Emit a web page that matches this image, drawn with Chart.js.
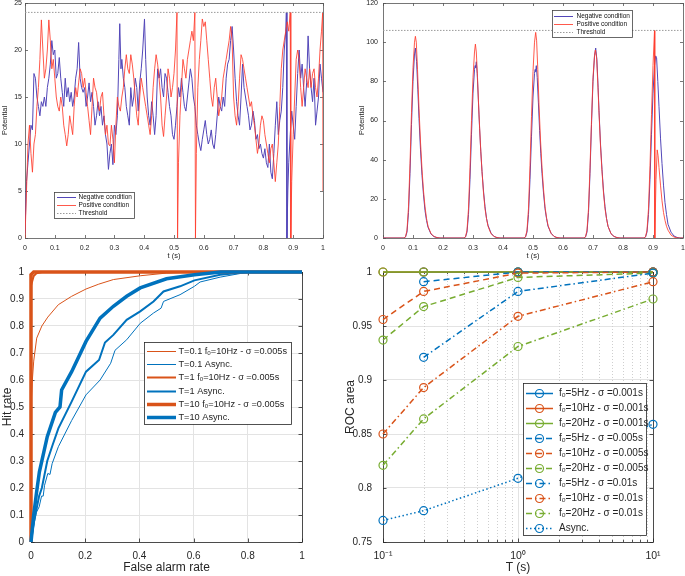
<!DOCTYPE html>
<html>
<head>
<meta charset="utf-8">
<script src="https://cdn.jsdelivr.net/npm/chart.js@4.4.1/dist/chart.umd.min.js"></script>
<style>
  html, body { margin: 0; padding: 0; background: #fff; }
  #wrap { position: relative; width: 685px; height: 576px; overflow: hidden; }
  canvas { position: absolute; }
</style>
</head>
<body>
<div id="wrap">
  <canvas id="c1" width="340" height="260" style="left:0;top:0"></canvas>
  <canvas id="c2" width="345" height="260" style="left:340px;top:0"></canvas>
  <canvas id="c3" width="340" height="316" style="left:0;top:260px"></canvas>
  <canvas id="c4" width="345" height="316" style="left:340px;top:260px"></canvas>
</div>
<script>
// ---- top left: potential with asynchronous input, [t, value]
const negTraceA = [[0,0.5],[0.005,6],[0.01,8],[0.015,10],[0.02,12],[0.025,11.5],[0.03,17.5],[0.035,17],[0.04,15],[0.045,14],[0.05,13],[0.055,14.5],[0.06,14],[0.065,15],[0.07,14],[0.075,16],[0.08,17],[0.085,18.5],[0.09,21],[0.095,19.5],[0.1,20],[0.105,17],[0.11,17.5],[0.115,19.2],[0.12,17],[0.125,15.5],[0.13,14],[0.135,17],[0.14,15],[0.145,16],[0.15,14.5],[0.155,15.5],[0.16,14],[0.165,15],[0.17,17],[0.175,18],[0.18,20.8],[0.185,17],[0.19,16],[0.195,15.5],[0.2,16],[0.205,14],[0.21,15],[0.215,16.5],[0.22,14.5],[0.225,15.5],[0.23,14],[0.235,12],[0.24,13],[0.245,14.5],[0.25,13],[0.255,14],[0.26,12],[0.265,13],[0.27,11],[0.275,10],[0.28,7.3],[0.285,9],[0.29,10],[0.295,7.8],[0.3,12],[0.305,11],[0.31,13],[0.315,19],[0.318,22.8],[0.322,18],[0.325,19],[0.33,17],[0.335,16],[0.34,14],[0.345,13],[0.35,12],[0.355,16],[0.36,14],[0.365,15],[0.37,17],[0.375,16],[0.38,13.5],[0.385,16.5],[0.39,18],[0.395,20],[0.401,23.3],[0.405,19],[0.41,15],[0.415,13],[0.42,12],[0.425,14.5],[0.43,13],[0.435,11],[0.44,13],[0.445,18],[0.45,17],[0.455,18],[0.46,16],[0.465,15],[0.47,17.5],[0.475,17],[0.48,15.5],[0.485,14],[0.49,13],[0.495,11],[0.5,10.5],[0.505,12],[0.51,14],[0.515,16],[0.52,15],[0.525,17],[0.53,15.5],[0.535,14],[0.54,13.5],[0.545,15],[0.55,16.5],[0.555,18],[0.56,17],[0.565,15],[0.57,14],[0.575,12],[0.58,11],[0.585,10],[0.59,9.3],[0.595,10.5],[0.6,11.5],[0.605,12.5],[0.61,11],[0.615,10],[0.62,10.5],[0.625,11.5],[0.63,10],[0.635,9.5],[0.64,11],[0.645,13],[0.65,15],[0.655,14],[0.66,13.5],[0.665,15],[0.67,14],[0.675,17],[0.68,18.5],[0.685,19],[0.69,21],[0.695,22.5],[0.7,20],[0.705,17],[0.71,14.5],[0.715,13],[0.72,12],[0.725,15],[0.73,18.5],[0.735,16],[0.74,15],[0.745,14],[0.75,13],[0.755,11.5],[0.76,12],[0.765,13.5],[0.77,12.5],[0.775,10.5],[0.78,11],[0.785,9.5],[0.79,10],[0.795,9],[0.8,8.5],[0.805,9.5],[0.81,8],[0.815,7.5],[0.82,10],[0.825,7],[0.83,6.3],[0.835,9],[0.84,12],[0.845,14.5],[0.85,11],[0.855,12.5],[0.86,13.5],[0.865,16],[0.87,20],[0.875,22],[0.877,24],[0.879,0],[0.882,5],[0.885,8],[0.89,11],[0.895,13.5],[0.9,12],[0.905,10.5],[0.91,14],[0.915,17.5],[0.92,20],[0.925,17],[0.93,18.5],[0.935,16],[0.94,14],[0.945,16.5],[0.95,21.5],[0.955,18],[0.96,16],[0.965,14.5],[0.97,17],[0.975,12],[0.98,13.5],[0.985,15],[0.99,18.5],[0.995,17],[1,15.5]];
const posTraceA = [[0,0],[0.005,5],[0.01,10],[0.015,12],[0.02,9],[0.025,7],[0.03,10],[0.035,11],[0.04,14],[0.045,16],[0.05,19],[0.055,23.2],[0.06,20],[0.065,17],[0.07,18],[0.075,20],[0.08,23.2],[0.085,21],[0.09,18],[0.095,19],[0.1,17],[0.105,15],[0.11,14],[0.115,13.5],[0.12,15],[0.125,14],[0.13,12],[0.135,11],[0.14,9.8],[0.145,11],[0.15,13],[0.155,12],[0.16,11],[0.165,14],[0.17,16],[0.175,15],[0.18,16.5],[0.185,18],[0.19,17.5],[0.195,16],[0.2,17],[0.205,15.5],[0.21,14],[0.215,12.5],[0.22,11],[0.225,14],[0.23,17],[0.235,16],[0.24,15.5],[0.245,14],[0.25,13.5],[0.255,15],[0.26,15.5],[0.265,13],[0.27,11],[0.275,12],[0.28,10],[0.285,9.8],[0.29,12],[0.295,10.5],[0.3,8],[0.305,12],[0.31,15],[0.315,14],[0.32,13.5],[0.325,15],[0.33,16],[0.335,18],[0.34,19.5],[0.345,18],[0.35,17.5],[0.355,19.5],[0.36,18.5],[0.365,17],[0.37,15],[0.375,13],[0.38,12],[0.385,15],[0.39,17],[0.395,16],[0.4,15],[0.405,14],[0.41,13],[0.415,12],[0.42,11],[0.425,13],[0.43,16],[0.435,18],[0.44,19.5],[0.445,18.5],[0.45,17],[0.455,15],[0.46,12],[0.465,10.8],[0.47,13],[0.475,15],[0.48,18],[0.485,17],[0.49,15],[0.495,16],[0.5,17.5],[0.505,20],[0.51,24],[0.512,0],[0.515,8],[0.52,13],[0.525,16],[0.53,19],[0.535,18],[0.54,17],[0.545,19],[0.55,20],[0.555,21],[0.56,22],[0.565,21],[0.57,24],[0.572,0],[0.575,9],[0.58,16],[0.585,19],[0.59,21],[0.595,23.3],[0.6,22.5],[0.605,23],[0.61,21],[0.615,19],[0.62,17],[0.625,15],[0.63,14],[0.635,16],[0.64,17],[0.645,15],[0.65,13],[0.655,14],[0.66,15],[0.665,17],[0.67,18],[0.675,19],[0.68,20],[0.685,21],[0.69,22.5],[0.695,21],[0.7,15],[0.705,13],[0.71,12],[0.715,14],[0.72,17],[0.725,19.5],[0.73,19],[0.735,18],[0.74,17],[0.745,16],[0.75,15],[0.755,14],[0.76,14.5],[0.765,13],[0.77,12],[0.775,10.5],[0.78,9],[0.785,10],[0.79,12],[0.795,13],[0.8,12.5],[0.805,11],[0.81,10],[0.815,9],[0.82,8],[0.825,9.5],[0.83,10],[0.835,8],[0.84,6],[0.845,8],[0.85,10],[0.855,14],[0.86,18],[0.865,20],[0.87,21],[0.875,22],[0.88,23],[0.885,22],[0.89,24],[0.892,0],[0.895,6],[0.9,11],[0.905,15],[0.91,19],[0.915,20],[0.92,19],[0.925,16],[0.93,14],[0.935,16],[0.94,18],[0.945,17],[0.95,16],[0.955,18],[0.96,16],[0.965,17.5],[0.97,18],[0.975,16],[0.98,15],[0.985,17],[0.99,20],[0.995,22],[0.999,24],[1,5]];
const thresholdA = 24;

// ---- top right: potential with 5 Hz synchronous bursts
const negTraceB = [[0,0],[0.07,0],[0.075,0.5],[0.08,3],[0.085,13],[0.09,33],[0.095,58],[0.1,80],[0.105,94],[0.108,97],[0.112,90],[0.116,76],[0.12,61],[0.125,45],[0.13,32],[0.135,22],[0.14,14],[0.145,9],[0.15,5.5],[0.16,2],[0.17,0.7],[0.18,0.2],[0.19,0],
  [0.27,0],[0.275,0.5],[0.28,3],[0.285,12],[0.29,30],[0.295,53],[0.3,74],[0.305,86],[0.307,88],[0.309,87],[0.311,90],[0.314,84],[0.318,70],[0.322,56],[0.326,44],[0.33,34],[0.335,24],[0.34,16],[0.345,10],[0.35,6.5],[0.36,2.5],[0.37,0.8],[0.38,0.2],[0.39,0],
  [0.47,0],[0.475,0.5],[0.48,3],[0.485,12],[0.49,30],[0.495,52],[0.5,72],[0.505,84],[0.507,86],[0.509,85],[0.511,88],[0.514,82],[0.518,69],[0.522,55],[0.526,43],[0.53,33],[0.535,23],[0.54,15],[0.545,10],[0.55,6],[0.56,2.5],[0.57,0.8],[0.58,0.2],[0.59,0],
  [0.67,0],[0.675,0.5],[0.68,3],[0.685,13],[0.69,33],[0.695,58],[0.7,80],[0.705,93],[0.709,97],[0.713,91],[0.717,77],[0.72,65],[0.725,48],[0.73,35],[0.735,24],[0.74,16],[0.745,10],[0.75,6],[0.76,2.2],[0.77,0.8],[0.78,0.2],[0.79,0],
  [0.87,0],[0.875,0.5],[0.88,3],[0.885,12],[0.89,30],[0.895,53],[0.9,74],[0.905,88],[0.909,93],[0.912,92],[0.916,80],[0.92,67],[0.925,51],[0.93,38],[0.935,27],[0.94,18],[0.945,12],[0.95,7],[0.96,3],[0.97,1],[0.98,0.3],[0.99,0],[1,0]];
const posTraceB = [[0,0],[0.07,0],[0.075,0.6],[0.08,4],[0.085,16],[0.09,38],[0.095,64],[0.1,87],[0.105,100],[0.108,103],[0.111,100],[0.115,86],[0.12,66],[0.125,49],[0.13,35],[0.135,24],[0.14,16],[0.145,10],[0.15,6],[0.16,2.2],[0.17,0.8],[0.18,0.2],[0.19,0],
  [0.27,0],[0.275,0.6],[0.28,4],[0.285,15],[0.29,36],[0.295,60],[0.3,82],[0.305,95],[0.308,99],[0.311,95],[0.315,82],[0.32,63],[0.325,47],[0.33,34],[0.335,23],[0.34,15],[0.345,10],[0.35,6],[0.36,2.2],[0.37,0.8],[0.38,0.2],[0.39,0],
  [0.47,0],[0.475,0.6],[0.48,4],[0.485,15],[0.49,37],[0.495,62],[0.5,85],[0.505,100],[0.509,105],[0.512,101],[0.516,86],[0.52,68],[0.525,50],[0.53,36],[0.535,25],[0.54,16],[0.545,10.5],[0.55,6.5],[0.56,2.4],[0.57,0.8],[0.58,0.2],[0.59,0],
  [0.67,0],[0.675,0.6],[0.68,4],[0.685,15],[0.69,36],[0.695,60],[0.7,82],[0.705,93],[0.708,96],[0.712,92],[0.716,79],[0.72,64],[0.725,47],[0.73,34],[0.735,23],[0.74,15],[0.745,10],[0.75,6],[0.76,2.2],[0.77,0.8],[0.78,0.2],[0.79,0],
  [0.87,0],[0.875,0.6],[0.88,4],[0.885,15],[0.89,37],[0.895,63],[0.9,88],[0.905,106],[0.906,0],[0.91,30],[0.914,45],[0.917,42],[0.92,36],[0.925,27],[0.93,19],[0.935,13],[0.94,9],[0.945,6],[0.95,4],[0.96,1.5],[0.97,0.5],[0.98,0.1],[0.99,0],[1,0]];
const thresholdB = 106;
const traceLabels = ['Negative condition', 'Positive condition', 'Threshold'];

// ---- bottom left: ROC curves, [false alarm rate, hit rate]
const rocSyncT01 = [[0,0],[0,0.5],[0.005,0.6],[0.01,0.67],[0.021,0.755],[0.04,0.8],[0.062,0.833],[0.101,0.879],[0.15,0.91],[0.203,0.937],[0.25,0.955],[0.304,0.972],[0.403,0.986],[0.5,0.996],[0.6,1],[1,1]];
const rocAsyncT01 = [[0,0],[0.01,0.06],[0.02,0.11],[0.03,0.13],[0.039,0.17],[0.045,0.17],[0.05,0.21],[0.062,0.254],[0.07,0.25],[0.078,0.29],[0.101,0.353],[0.15,0.45],[0.203,0.545],[0.255,0.6],[0.294,0.662],[0.31,0.71],[0.353,0.749],[0.403,0.81],[0.452,0.848],[0.48,0.866],[0.489,0.891],[0.55,0.916],[0.603,0.947],[0.624,0.963],[0.698,0.981],[0.797,0.999],[1,1]];
const rocSyncT1 = [[0,0],[0,0.95],[0.01,0.985],[0.02,0.995],[0.04,1],[1,1]];
const rocAsyncT1 = [[0,0],[0.01,0.07],[0.02,0.12],[0.03,0.17],[0.04,0.2],[0.06,0.3],[0.08,0.36],[0.101,0.421],[0.15,0.52],[0.203,0.631],[0.251,0.674],[0.273,0.739],[0.304,0.767],[0.353,0.823],[0.403,0.854],[0.452,0.891],[0.489,0.928],[0.55,0.947],[0.603,0.969],[0.698,0.99],[0.8,1],[1,1]];
const rocSyncT10 = [[0,0],[0,0.99],[0.01,1],[1,1]];
const rocAsyncT10 = [[0,0],[0.01,0.1],[0.02,0.18],[0.031,0.26],[0.06,0.39],[0.09,0.48],[0.107,0.5],[0.113,0.563],[0.15,0.631],[0.203,0.743],[0.255,0.829],[0.304,0.873],[0.353,0.91],[0.403,0.941],[0.5,0.975],[0.603,0.99],[0.7,1],[1,1]];
const rocLabels = ['T=0.1 fₒ=10Hz - σ =0.005s', 'T=0.1 Async.', 'T=1 fₒ=10Hz - σ =0.005s', 'T=1 Async.', 'T=10 fₒ=10Hz - σ =0.005s', 'T=10 Async.'];

// ---- bottom right: ROC area vs observation time T
const windowT = [0.1, 0.2, 1, 10];
const area5Hz001 = [null, 1, 1, 1];
const area10Hz001 = [1, 1, 1, 1];
const area20Hz001 = [1, 1, 1, 1];
const area5Hz005 = [null, 0.991, 1.0, 1.0];
const area10Hz005 = [0.956, 0.982, 0.999, 1.0];
const area20Hz005 = [0.937, 0.968, 0.995, 0.999];
const area5Hz01 = [null, 0.921, 0.982, 0.999];
const area10Hz01 = [0.850, 0.893, 0.959, 0.991];
const area20Hz01 = [0.821, 0.864, 0.931, 0.975];
const areaAsync = [0.770, 0.779, 0.809, 0.859];
const areaLabels = ['fₒ=5Hz - σ =0.001s', 'fₒ=10Hz - σ =0.001s', 'fₒ=20Hz - σ =0.001s',
  'fₒ=5Hz - σ =0.005s', 'fₒ=10Hz - σ =0.005s', 'fₒ=20Hz - σ =0.005s',
  'fₒ=5Hz - σ =0.01s', 'fₒ=10Hz - σ =0.01s', 'fₒ=20Hz - σ =0.01s', 'Async.'];

const FONT = '"Liberation Sans", Arial, Helvetica, sans-serif';
const NEG = '#5246b8';
const POS = 'rgba(255,60,45,0.85)';
const BLUE = '#0072BD', ORANGE = '#D95319', GREEN = '#77AC30';
const AX = '#262626';

const pts = arr => arr.map(([x, y]) => ({x, y}));
const num = v => String(Math.round(v * 1000) / 1000);
const fixX = h => s => { s.height = h; s.paddingLeft = 0; s.paddingRight = 0; };
const fixY = w => s => { s.width = w; s.paddingTop = 0; s.paddingBottom = 0; };

// box round the plot area with ticks pointing inwards (matlab look), under the lines
const frame = {
  id: 'frame',
  beforeDatasetsDraw(chart, args, o) {
    const {ctx, chartArea: a} = chart;
    const xs = chart.scales.x, ys = chart.scales.y;
    ctx.save();
    ctx.setLineDash([]);
    ctx.strokeStyle = o.color;
    ctx.lineWidth = o.width;
    ctx.beginPath();
    const tickX = (v, len) => {
      const px = Math.round(xs.getPixelForValue(v)) + 0.5;
      ctx.moveTo(px, a.bottom); ctx.lineTo(px, a.bottom - len);
      ctx.moveTo(px, a.top); ctx.lineTo(px, a.top + len);
    };
    xs.ticks.forEach(t => tickX(t.value, o.len));
    (o.minorX || []).forEach(v => tickX(v, o.len * 0.6));
    ys.ticks.forEach(t => {
      const py = Math.round(ys.getPixelForValue(t.value)) + 0.5;
      ctx.moveTo(a.left, py); ctx.lineTo(a.left + o.len, py);
      ctx.moveTo(a.right, py); ctx.lineTo(a.right - o.len, py);
    });
    ctx.stroke();
    ctx.strokeRect(Math.round(a.left) + 0.5, Math.round(a.top) + 0.5, Math.round(a.right - a.left), Math.round(a.bottom - a.top));
    ctx.restore();
  }
};

// dotted minor grid for the log axis
const minorGrid = {
  id: 'minorGrid',
  beforeDatasetsDraw(chart, args, o) {
    if (!o.values) return;
    const {ctx, chartArea: a} = chart;
    const xs = chart.scales.x;
    ctx.save();
    ctx.strokeStyle = o.color;
    ctx.lineWidth = 1;
    ctx.setLineDash([1, 2]);
    ctx.beginPath();
    o.values.forEach(v => {
      const px = Math.round(xs.getPixelForValue(v)) + 0.5;
      ctx.moveTo(px, a.top); ctx.lineTo(px, a.bottom);
    });
    ctx.stroke();
    ctx.restore();
  }
};

// legend box placed inside the axes
const boxLegend = {
  id: 'boxLegend',
  afterDraw(chart, args, o) {
    const ctx = chart.ctx;
    ctx.save();
    ctx.setLineDash([]);
    ctx.fillStyle = '#fff';
    ctx.fillRect(o.x, o.y, o.w, o.h);
    ctx.strokeStyle = o.border;
    ctx.lineWidth = 0.8;
    ctx.strokeRect(o.x + 0.5, o.y + 0.5, o.w, o.h);
    ctx.font = o.size + 'px ' + FONT;
    ctx.textBaseline = 'middle';
    chart.data.datasets.forEach((d, i) => {
      const cy = Math.round(o.y + o.first + i * o.row) + 0.5;
      ctx.save();
      ctx.strokeStyle = d.borderColor;
      ctx.lineWidth = d.borderWidth;
      ctx.setLineDash(d.borderDash || []);
      ctx.beginPath();
      ctx.moveTo(o.x + o.l0, cy);
      ctx.lineTo(o.x + o.l1, cy);
      ctx.stroke();
      if (d.pointRadius > 0) {
        ctx.setLineDash([]);
        ctx.lineWidth = d.pointBorderWidth;
        ctx.beginPath();
        ctx.arc(o.x + (o.l0 + o.l1) / 2, cy, d.pointRadius, 0, Math.PI * 2);
        ctx.stroke();
      }
      ctx.restore();
      ctx.fillStyle = o.textColor;
      ctx.fillText(d.label, o.x + o.tx, cy);
    });
    ctx.restore();
  }
};

function traceSet(label, data, color, order, dash) {
  return { label, data: pts(data), borderColor: color, borderWidth: 1, borderDash: dash || [],
    pointRadius: 0, tension: 0, order };
}

function topOptions(ymax, ystep, yWidth, yTitlePad, yTickPad, padRight, legend) {
  const small = { family: FONT, size: 7 };
  return {
    responsive: false,
    animation: false,
    layout: { padding: { top: 3, right: padRight, left: 0, bottom: 0 } },
    plugins: {
      legend: { display: false },
      tooltip: { enabled: false },
      frame: { color: '#555', width: 0.8, len: 3 },
      boxLegend: legend
    },
    scales: {
      x: {
        type: 'linear', min: 0, max: 1,
        ticks: { stepSize: 0.1, font: small, color: '#222', padding: 6, maxRotation: 0, autoSkip: false, callback: num },
        grid: { display: false, drawTicks: false },
        border: { display: false },
        title: { display: true, text: 't (s)', font: { family: FONT, size: 7.5 }, color: '#222', padding: 0 },
        afterFit: fixX(22)
      },
      y: {
        min: 0, max: ymax,
        ticks: { stepSize: ystep, font: small, color: '#222', padding: yTickPad, callback: num },
        grid: { display: false, drawTicks: false },
        border: { display: false },
        title: { display: true, text: 'Potential', font: { family: FONT, size: 7.5 }, color: '#222', padding: { top: yTitlePad, bottom: 0 } },
        afterFit: fixY(yWidth)
      }
    }
  };
}

new Chart(document.getElementById('c1'), {
  type: 'line',
  data: { datasets: [
    traceSet(traceLabels[0], negTraceA, NEG, 3),
    traceSet(traceLabels[1], posTraceA, POS, 2),
    traceSet(traceLabels[2], [[0, thresholdA], [1, thresholdA]], '#9a9a9a', 1, [1.5, 1.5])
  ]},
  options: topOptions(25, 5, 25, 0, 3, 17,
    { x: 54, y: 192, w: 80, h: 26, first: 5, row: 8, l0: 3, l1: 22, tx: 24.5, size: 6.5, border: '#444', textColor: '#111' }),
  plugins: [frame, boxLegend]
});

new Chart(document.getElementById('c2'), {
  type: 'line',
  data: { datasets: [
    traceSet(traceLabels[0], negTraceB, NEG, 3),
    traceSet(traceLabels[1], posTraceB, POS, 2),
    traceSet(traceLabels[2], [[0, thresholdB], [1, thresholdB]], '#9a9a9a', 1, [1.5, 1.5])
  ]},
  options: topOptions(120, 20, 43, 17, 5, 2,
    { x: 212, y: 10, w: 80, h: 27, first: 5.7, row: 8.3, l0: 2, l1: 21, tx: 24.5, size: 6.5, border: '#444', textColor: '#111' }),
  plugins: [frame, boxLegend]
});

const rocStyle = [
  [rocSyncT01, ORANGE, 1], [rocAsyncT01, BLUE, 1],
  [rocSyncT1, ORANGE, 2], [rocAsyncT1, BLUE, 2],
  [rocSyncT10, ORANGE, 3.5], [rocAsyncT10, BLUE, 3.5]
];

new Chart(document.getElementById('c3'), {
  type: 'line',
  data: { datasets: rocStyle.map(([d, c, w], i) => ({
    label: rocLabels[i], data: pts(d), borderColor: c, borderWidth: w, pointRadius: 0, tension: 0, order: 10 - i, clip: 4
  })) },
  options: {
    responsive: false,
    animation: false,
    layout: { padding: { top: 12, right: 38, left: 0, bottom: 0 } },
    plugins: {
      legend: { display: false },
      tooltip: { enabled: false },
      frame: { color: AX, width: 0.8, len: 3.5 },
      boxLegend: { x: 144, y: 82, w: 147, h: 82, first: 8.7, row: 13.3, l0: 3, l1: 32, tx: 34.5, size: 9.2, border: AX, textColor: AX }
    },
    scales: {
      x: {
        type: 'linear', min: 0, max: 1,
        ticks: { stepSize: 0.2, font: { family: FONT, size: 10 }, color: AX, padding: 8, maxRotation: 0, callback: num },
        grid: { color: '#e3e3e3', drawTicks: false },
        border: { display: false },
        title: { display: true, text: 'False alarm rate', font: { family: FONT, size: 12 }, color: AX, padding: { top: 0, bottom: 1 } },
        afterFit: fixX(34)
      },
      y: {
        min: 0, max: 1,
        ticks: { stepSize: 0.1, font: { family: FONT, size: 10 }, color: AX, padding: 7, callback: num },
        grid: { color: '#e3e3e3', drawTicks: false },
        border: { display: false },
        title: { display: true, text: 'Hit rate', font: { family: FONT, size: 12 }, color: AX, padding: { top: 0, bottom: 0 } },
        afterFit: fixY(31)
      }
    }
  },
  plugins: [frame, boxLegend]
});

const areaStyle = [
  [area5Hz001, BLUE, []], [area10Hz001, ORANGE, []], [area20Hz001, GREEN, []],
  [area5Hz005, BLUE, [6, 4]], [area10Hz005, ORANGE, [6, 4]], [area20Hz005, GREEN, [6, 4]],
  [area5Hz01, BLUE, [6, 3, 1.5, 3]], [area10Hz01, ORANGE, [6, 3, 1.5, 3]], [area20Hz01, GREEN, [6, 3, 1.5, 3]],
  [areaAsync, BLUE, [1.5, 2.5]]
];
const logLabels = { 0.1: '10⁻¹', 1: '10⁰', 10: '10¹' };
const minorT = [0.2, 0.3, 0.4, 0.5, 0.6, 0.7, 0.8, 0.9, 2, 3, 4, 5, 6, 7, 8, 9];

new Chart(document.getElementById('c4'), {
  type: 'line',
  data: { datasets: areaStyle.map(([vals, c, dash], i) => ({
    label: areaLabels[i],
    data: windowT.map((t, k) => ({ x: t, y: vals[k] })),
    borderColor: c, borderWidth: 1.5, borderDash: dash,
    pointRadius: 4, pointBorderWidth: 1.2, pointBorderColor: c, pointBackgroundColor: 'rgba(0,0,0,0)',
    tension: 0, order: 20 - i, clip: 6
  })) },
  options: {
    responsive: false,
    animation: false,
    layout: { padding: { top: 12, right: 32, left: 0, bottom: 0 } },
    plugins: {
      legend: { display: false },
      tooltip: { enabled: false },
      minorGrid: { values: minorT, color: '#cfcfcf' },
      frame: { color: AX, width: 0.8, len: 3.5, minorX: minorT },
      boxLegend: { x: 183, y: 123, w: 123, h: 152, first: 10.3, row: 15, l0: 3, l1: 30, tx: 36, size: 10, border: AX, textColor: AX }
    },
    scales: {
      x: {
        type: 'logarithmic', min: 0.1, max: 10,
        afterBuildTicks: s => { s.ticks = windowT.filter(t => logLabels[t]).map(v => ({ value: v, major: true })); },
        ticks: { font: { family: FONT, size: 10.5 }, color: AX, padding: 8, maxRotation: 0, autoSkip: false, callback: v => logLabels[v] || '' },
        grid: { color: '#e3e3e3', drawTicks: false },
        border: { display: false },
        title: { display: true, text: 'T (s)', font: { family: FONT, size: 12 }, color: AX, padding: { top: 0, bottom: 1 } },
        afterFit: fixX(34)
      },
      y: {
        min: 0.75, max: 1,
        ticks: { stepSize: 0.05, font: { family: FONT, size: 10 }, color: AX, padding: 11, callback: num },
        grid: { color: '#e3e3e3', drawTicks: false },
        border: { display: false },
        title: { display: true, text: 'ROC area', font: { family: FONT, size: 12 }, color: AX, padding: { top: 3, bottom: 0 } },
        afterFit: fixY(43)
      }
    }
  },
  plugins: [minorGrid, frame, boxLegend]
});
</script>
</body>
</html>
